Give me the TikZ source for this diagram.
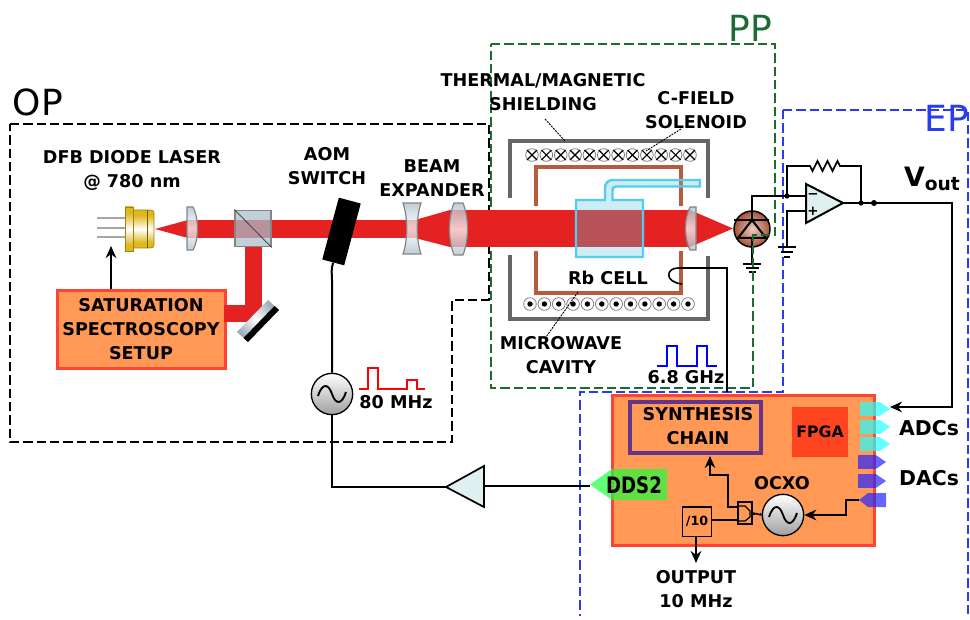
\documentclass[tikz,border=0pt]{standalone}
\usepackage{fontspec}
\setmainfont{DejaVu Sans}
\usetikzlibrary{arrows.meta,calc}
\definecolor{beamred}{HTML}{E52222}
\definecolor{boxorange}{HTML}{FF9955}
\definecolor{boxred}{HTML}{FF4433}
\definecolor{shieldgrey}{HTML}{666666}
\definecolor{cavbrown}{HTML}{B85A3C}
\definecolor{cellcyan}{HTML}{55CCEE}
\definecolor{cellfill}{RGB}{85,198,221}
\definecolor{amplight}{HTML}{E0F0F0}
\definecolor{ppgreen}{HTML}{1B6B33}
\definecolor{epblue}{HTML}{2A3CF0}
\definecolor{synpurple}{HTML}{663388}
\definecolor{lensblue}{HTML}{A9BECB}
\definecolor{goldc}{HTML}{E0B81C}
\definecolor{fpgared}{HTML}{FF4422}
\definecolor{tagcyan}{RGB}{36,255,255}
\definecolor{tagblue}{RGB}{36,36,255}
\definecolor{taggreen}{RGB}{30,255,60}
\pgfdeclareverticalshading{goldband}{100bp}{
  color(0bp)=(goldc); color(32bp)=(goldc); color(50bp)=(white); color(68bp)=(goldc); color(100bp)=(goldc)}
\tikzset{
  lbl/.style={font=\fontsize{13.2}{15}\selectfont\bfseries,inner sep=0pt,align=center},
  biglbl/.style={font=\fontsize{15.3}{18}\selectfont\bfseries,inner sep=0pt},
  region/.style={font=\fontsize{27}{30}\selectfont,inner sep=0pt},
  bdash/.style={dash pattern=on 7pt off 3pt,line width=1.1pt},
  wire/.style={line width=1.5pt,black},
  thinwire/.style={line width=1.2pt,black},
  arr/.style={-{Stealth[length=9pt,width=8pt]}},
  leader/.style={line width=.7pt,dash pattern=on 1.5pt off .8pt,black},
  lensstyle/.style={draw=shieldgrey!80,line width=.9pt},
  lensfill/.style={fill opacity=.75,top color=lensblue,bottom color=lensblue,middle color=white},
  tagc/.style={fill=tagcyan,fill opacity=.7},
  tagd/.style={fill=tagblue,fill opacity=.7},
  oscnode/.style={circle,draw=black,line width=1pt,minimum size=31pt,inner sep=0pt,top color=white,bottom color=gray!75},
  coilx/.style={circle,draw=gray,line width=.6pt,minimum size=9.5pt,inner sep=0pt},
  coildot/.style={circle,draw=gray,line width=.6pt,minimum size=9.5pt,inner sep=0pt},
  pulsewire/.style={line width=1.5pt,line join=miter},
  knots/.style={line width=2.2pt,dash pattern=on 1.2pt off 1.6pt,black},
}
\newcommand{\sinewave}[1]{\draw[line width=1.4pt,black] ($(#1.center)+(-14,2)$) .. controls ($(#1.center)+(-9,-13)$) and ($(#1.center)+(-3,-9)$) .. (#1.center) .. controls ($(#1.center)+(3,9)$) and ($(#1.center)+(9,13)$) .. ($(#1.center)+(14,-2)$);}
\begin{document}
\begin{tikzpicture}[x=.75pt,y=-.75pt]
\path[use as bounding box,fill=white] (0,0) rectangle (970,620);

% diode first: region box passes over it
\node[circle,draw=black,line width=1.1pt,minimum size=27pt,inner sep=0pt,inner color=white!70!cavbrown,outer color=cavbrown!90!black] (pd) at (752,229) {};
\coordinate (pdtop) at (752,220);
\coordinate (pdbase) at (752,238);
\draw[line width=1.5pt] (pd.north) -- (pdtop);
\draw[line width=1.5pt] (734,220) -- (769,220);
\draw[line width=1.5pt] (pdtop) -- (738,238) -- (766,238) -- cycle;
\coordinate (pdgnd) at (752,264);
\draw[wire] (pdbase) -- (pdgnd);
\draw[wire] (743,264) -- (761,264) (745.5,268) -- (758.5,268) (748.5,272) -- (755.5,272);

% region boxes
\draw[bdash,black] (10,124) -- (489,124) -- (489,300) -- (452,300) -- (452,442) -- (10,442) -- cycle;
\draw[bdash,ppgreen] (491,44) -- (775,44) -- (775,235) -- (753,235) -- (753,388) -- (491,388) -- cycle;
\draw[bdash,epblue] (783,110) -- (968,110) -- (968,616);
\draw[bdash,epblue] (783,110) -- (783,392) -- (580,392) -- (580,616);
\node[region] (oplabel) at (38,102) {OP};
\node[region,text=ppgreen] (pplabel) at (750,28) {PP};
\node[region,text=epblue] (eplabel) at (947,118) {EP};

% electronics box
\node[draw=boxred,line width=2.4pt,fill=boxorange,minimum width=196.5pt,minimum height=113pt,inner sep=0pt] (elec) at (743.5,470.5) {};
\node[draw=synpurple,line width=3pt,minimum width=98.5pt,minimum height=38.5pt,inner sep=0pt] (synth) at (695.5,427.5) {};
\node[lbl] (synthtxt) at (698,426) {SYNTHESIS\\[3pt]CHAIN};
\node[lbl,fill=fpgared,minimum width=42pt,minimum height=37.5pt,font=\fontsize{11.8}{14}\selectfont\bfseries] (fpga) at (820,432) {FPGA};

% tags
\foreach \y in {409,427,444}{
  \path[tagc] (860,\y-6.8) -- (880,\y-6.8) -- (890,\y) -- (880,\y+6.8) -- (860,\y+6.8) -- cycle;
}
\coordinate (adca) at (890,407);
\foreach \y in {462,481}{
  \path[tagd] (858,\y-6.8) -- (876,\y-6.8) -- (886,\y) -- (876,\y+6.8) -- (858,\y+6.8) -- cycle;
}
\path[tagd] (886,493) -- (868,493) -- (859,500) -- (868,507) -- (886,507) -- cycle;
\coordinate (dacc) at (859,500);
\path[fill=taggreen,fill opacity=.7] (590,484.5) -- (612,469) -- (667,469) -- (667,500) -- (612,500) -- cycle;
\coordinate (ddsin) at (590,486);
\node[inner sep=0pt] (dds) at (634,485) {\fontsize{17}{19}\selectfont\bfseries\scalebox{.8}[1]{DDS2}};
\node[biglbl] (adcs) at (929,428) {ADCs};
\node[biglbl] (dacs) at (929,478) {DACs};

% divider, splitter, OCXO
\node[draw=black,line width=1pt,minimum width=22pt,minimum height=22pt,inner sep=0pt,font=\fontsize{9.5}{11}\selectfont\bfseries] (divten) at (697,521.5) {/10};
\node[oscnode] (ocxo) at (783,515) {};
\sinewave{ocxo}
\node[lbl] (ocxotxt) at (782,483) {OCXO};
\node[draw=black,line width=1pt,minimum width=10.5pt,minimum height=16.5pt,inner sep=0pt] (split) at (745,513) {};
\draw[line width=.9pt] (738,506) -- (745,506) -- (750,511) -- (750,517) -- (745,521) -- (738,521);
\coordinate (splita) at (738,507);
\coordinate (splitb) at (738,520);
\coordinate (synbot) at (710,456);
\coordinate (outend) at (696,563);
\draw[thinwire] (ocxo.west) -- (split.east);
\draw[thinwire] (divten.east|-splitb) -- (splitb);
\draw[thinwire,arr] (splita) -| (728,475) -| (synbot);
\draw[thinwire,arr] (divten.south-|outend) -- (outend);
\draw[wire,arr] (dacc) -- ++(-13,0) |- (ocxo.east);
\draw[knots] (729,507) -- (737,507) (729,520) -- (737,520) (753,514) -- (761,514);
\node[lbl] (outtxt) at (696,589) {OUTPUT\\[3pt]10 MHz};

% saturation box, under the beam end
\node[draw=boxred,fill=boxorange,line width=2.4pt,inner sep=0pt,minimum width=126pt,minimum height=59pt] (sat) at (141.5,329.5) {};

% beam
\fill[beamred] (155,229) -- (188,220) -- (188,238) -- cycle;
\fill[beamred] (188,220) rectangle (415,238);
\fill[beamred] (415,220) -- (450,210) -- (450,238) -- (450,247) -- (415,238) -- cycle;
\fill[beamred] (450,210) rectangle (690,247);
\fill[beamred] (690,210) -- (733,228.5) -- (690,247) -- cycle;
\fill[beamred] (245,247) rectangle (262,322);
\fill[beamred] (224,305) rectangle (262,322);
\node[lbl] (sattxt) at (141,329.5) {SATURATION\\[3pt]SPECTROSCOPY\\[3pt]SETUP};

% cube
\path[fill=lensblue,fill opacity=.72] (235,210) rectangle (271,247);
\node[draw=shieldgrey!80,line width=.9pt,minimum width=27pt,minimum height=27.5pt,inner sep=0pt] (cube) at (253,228.5) {};
\draw[line width=.7pt,black!70] (cube.north west) -- (cube.south east);

% mirror
\path[top color=lensblue!90!black,bottom color=lensblue!90!black,middle color=white,shading angle=-45] (237,332) -- (248,342) -- (279,310) -- (268,300) -- cycle;
\fill[black] (243.5,338) -- (248,342) -- (279,310) -- (274.5,306) -- cycle;

% laser
\foreach \y in {218,228,237}{\draw[line width=1.5pt,gray!70] (97,\y) -- (125,\y);}
\path[draw=goldc!70!black,line width=.5pt,shading=goldband] (133,210) -- (150,210) .. controls (153,210) and (154,211) .. (154,213) -- (154,245) .. controls (154,247) and (153,248) .. (150,248) -- (133,248) -- cycle;
\draw[line width=.4pt,goldc!50!black] (147,210) -- (147,248);
\path[draw=goldc!70!black,line width=.5pt,shading=goldband] (125,207) rectangle (133,251);
\coordinate (laserin) at (111,246);
\draw[thinwire,arr] (sat.north-|laserin) -- (laserin);

% lenses
\path[lensstyle,lensfill] (187,207) -- (193,207) .. controls (199,218) and (199,240) .. (193,250) -- (187,250) -- cycle;
\path[lensstyle,lensfill] (403,203) -- (421,203) .. controls (416,218) and (416,240) .. (421,254) -- (403,254) .. controls (408,240) and (408,218) .. (403,203) -- cycle;
\path[lensstyle,lensfill] (454,203) -- (463,203) .. controls (469,218) and (469,240) .. (463,255) -- (454,255) .. controls (448,240) and (448,218) .. (454,203) -- cycle;
\path[lensstyle,lensfill] (690,207) -- (696,207) -- (696,250) -- (690,250) .. controls (684,238) and (684,219) .. (690,207) -- cycle;

% AOM
\node[fill=black,rotate=-15,minimum width=17pt,minimum height=48pt,inner sep=0pt] (aom) at (341.5,231.5) {};
\node[oscnode] (osc) at (332,394) {};
\sinewave{osc}
\draw[wire] (aom.south) to[out=-110,in=90] ($(osc.north)+(0,-92)$) -- (osc.north);

% amplifier chain
\node[inner sep=0pt] (ampin) at (446,487) {};
\path[draw=black,line width=1.3pt,fill=amplight] (ampin.center) -- (484,466) -- (484,507) -- cycle;
\coordinate (ampout) at (484,486);
\draw[line width=1.8pt] (osc.south) |- (ampin.center);
\draw[thinwire] (ampout) -- (ddsin);

% shield
\draw[line width=2.5pt,shieldgrey] (510,198) -- (510,141) -- (708,141) -- (708,198);
\draw[line width=2.5pt,shieldgrey] (510,255) -- (510,319) -- (708,319) -- (708,256);
% cavity
\draw[line width=3.4pt,cavbrown] (536,206) -- (536,167) -- (681,167) -- (681,206);
\draw[line width=3.4pt,cavbrown] (536,251) -- (536,293) -- (681,293) -- (681,251);
% cell
\path[fill=cellfill,fill opacity=.3] (576,200) -- (605,200) -- (605,188) .. controls (605,183) and (608,180) .. (613,180) -- (700,180) -- (700,186.5) -- (616,186.5) .. controls (613,186.5) and (612.5,188) .. (612.5,191) -- (612.5,200) -- (643,200) -- (643,257) -- (576,257) -- cycle;
\draw[cellcyan,line width=1.8pt] (576,200) -- (605,200) -- (605,188) .. controls (605,183) and (608,180) .. (613,180) -- (700,180) -- (700,186.5) -- (616,186.5) .. controls (613,186.5) and (612.5,188) .. (612.5,191) -- (612.5,200) -- (643,200) -- (643,257) -- (576,257) -- cycle;

% coils
\foreach \i in {0,...,11}{
  \node[coilx] (cx\i) at (532+14.36*\i,155) {};
  \draw[line width=.9pt] ($(cx\i)+(-5,-5)$) -- ($(cx\i)+(5,5)$) ($(cx\i)+(-5,5)$) -- ($(cx\i)+(5,-5)$);
  \node[coildot] (cd\i) at (530+14.36*\i,304) {};
  \fill ($(cd\i)$) circle (2.7);
}

% loop coupling
\coordinate (loopend) at (682,284);
\draw[thinwire] (727,392) -- (727,268) -- (678,268) .. controls (666,268) and (664,282) .. (loopend);

% op amp
\coordinate (opminus) at (806,196);
\coordinate (opplus) at (806,211);
\coordinate (opout) at (843,203);
\path[draw=black,line width=1.5pt,fill=amplight] (806,184) -- (opout) -- (806,223) -- cycle;
\node[inner sep=0pt,font=\fontsize{10}{10}\selectfont\bfseries] (opm) at (813,196) {−};
\node[inner sep=0pt,font=\fontsize{10}{10}\selectfont\bfseries] (opp) at (813,211) {+};
\draw[thinwire] (pd.north) |- (opminus);
\draw[thinwire] (opplus) -| (787,247);
\draw[wire] (778,247) -- (796,247) (781,252) -- (793,252) (784,257) -- (790,257);
\fill (787,196) circle (2.6);
\fill (861,203) circle (2.6);
\fill (874,203) circle (3);
\draw[thinwire] (787,196) -- (787,166) -- (810,166) -- (812.5,171) -- (817.5,161) -- (822.5,171) -- (827.5,161) -- (832.5,171) -- (837.5,161) -- (840,166) -- (861,166) -- (861,203);
\draw[thinwire] (opout) -- (874,203);
\draw[wire,arr] (874,203) -- (952,203) -- (952,407) -- (adca);
\node[inner sep=0pt] (vout) at (932,179) {\fontsize{20}{22}\selectfont\bfseries V\raisebox{-2.5pt}{\fontsize{14}{16}\selectfont out}};

% pulses
\draw[pulsewire,blue] (657,366) -- (667,366) -- (667,346) -- (677,346) -- (677,366) -- (697,366) -- (697,346) -- (707,346) -- (707,366) -- (717,366);
\draw[pulsewire,red] (359,389) -- (368,389) -- (368,368) -- (378,368) -- (378,389) -- (407,389) -- (407,380) -- (417,380) -- (417,389) -- (425,389);

% labels
\node[lbl] (dfb) at (132,170) {DFB DIODE LASER\\[3pt]@ 780 nm};
\node[lbl] (aomt) at (327,166.5) {AOM\\[3pt]SWITCH};
\node[lbl] (bext) at (432,178.5) {BEAM\\[3pt]EXPANDER};
\node[lbl] (thermal) at (543,92) {THERMAL/MAGNETIC\\[3pt]SHIELDING};
\node[lbl] (cfield) at (696,110.5) {C-FIELD\\[3pt]SOLENOID};
\node[lbl] (rbcell) at (608,278) {Rb CELL};
\node[lbl] (mwave) at (561,355) {MICROWAVE\\[3pt]CAVITY};
\node[lbl] (ghz) at (686,377) {6.8 GHz};
\node[lbl] (mhz) at (396,402) {80 MHz};

% leaders
\coordinate (shieldtop) at (565,141);
\coordinate (solcoil) at (646,151);
\coordinate (cavbot) at (578,292);
\coordinate (thermalend) at (545,119);
\coordinate (cfieldend) at (681,129);
\coordinate (mwaveend) at (546,337);
\draw[leader] (thermalend) -- (shieldtop);
\draw[leader] (cfieldend) -- (solcoil);
\draw[leader] (cavbot) -- (mwaveend);
\end{tikzpicture}
\end{document}
